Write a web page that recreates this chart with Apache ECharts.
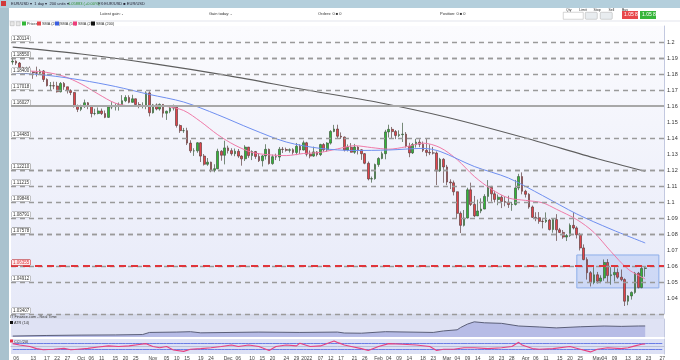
<!DOCTYPE html>
<html><head><meta charset="utf-8">
<script src="https://cdn.jsdelivr.net/npm/echarts@6/dist/echarts.min.js"></script>
<style>html,body{margin:0;padding:0;background:#fff}#c{width:680px;height:360px}</style>
</head><body><div id="c"></div>
<script>
// [date, open, close, low, high]
const ohlc = [
['2021-09-03',1.1875,1.1880,1.1858,1.1909],['2021-09-06',1.1880,1.1868,1.1856,1.1886],['2021-09-07',1.1868,1.1840,1.1834,1.1875],
['2021-09-08',1.1840,1.1817,1.1803,1.1845],['2021-09-09',1.1817,1.1826,1.1802,1.1845],['2021-09-10',1.1826,1.1813,1.1807,1.1847],
['2021-09-13',1.1813,1.1808,1.1770,1.1817],['2021-09-14',1.1808,1.1805,1.1784,1.1846],['2021-09-15',1.1805,1.1819,1.1799,1.1830],
['2021-09-16',1.1819,1.1766,1.1750,1.1825],['2021-09-17',1.1766,1.1727,1.1722,1.1773],['2021-09-20',1.1727,1.1727,1.1700,1.1750],
['2021-09-21',1.1727,1.1725,1.1705,1.1752],['2021-09-22',1.1725,1.1689,1.1684,1.1751],['2021-09-23',1.1689,1.1741,1.1685,1.1750],
['2021-09-24',1.1741,1.1720,1.1701,1.1750],['2021-09-27',1.1720,1.1696,1.1678,1.1720],['2021-09-28',1.1696,1.1684,1.1668,1.1705],
['2021-09-29',1.1684,1.1598,1.1590,1.1687],['2021-09-30',1.1598,1.1579,1.1562,1.1609],['2021-10-01',1.1579,1.1596,1.1568,1.1608],
['2021-10-04',1.1596,1.1620,1.1588,1.1640],['2021-10-05',1.1620,1.1597,1.1580,1.1625],['2021-10-06',1.1597,1.1553,1.1529,1.1604],
['2021-10-07',1.1553,1.1553,1.1542,1.1583],['2021-10-08',1.1553,1.1569,1.1548,1.1591],['2021-10-11',1.1569,1.1553,1.1544,1.1584],
['2021-10-12',1.1553,1.1529,1.1524,1.1572],['2021-10-13',1.1529,1.1594,1.1525,1.1599],['2021-10-14',1.1594,1.1596,1.1580,1.1624],
['2021-10-15',1.1596,1.1601,1.1572,1.1616],['2021-10-18',1.1601,1.1608,1.1571,1.1622],['2021-10-19',1.1608,1.1633,1.1595,1.1668],
['2021-10-20',1.1633,1.1653,1.1624,1.1667],['2021-10-21',1.1653,1.1623,1.1617,1.1667],['2021-10-22',1.1623,1.1645,1.1620,1.1670],
['2021-10-25',1.1645,1.1609,1.1596,1.1646],['2021-10-26',1.1609,1.1598,1.1586,1.1624],['2021-10-27',1.1598,1.1604,1.1585,1.1623],
['2021-10-28',1.1604,1.1682,1.1580,1.1692],['2021-10-29',1.1682,1.1558,1.1535,1.1692],['2021-11-01',1.1558,1.1607,1.1553,1.1613],
['2021-11-02',1.1607,1.1581,1.1573,1.1616],['2021-11-03',1.1581,1.1610,1.1571,1.1616],['2021-11-04',1.1610,1.1555,1.1528,1.1612],
['2021-11-05',1.1555,1.1567,1.1513,1.1571],['2021-11-08',1.1567,1.1587,1.1555,1.1599],['2021-11-09',1.1587,1.1593,1.1572,1.1609],
['2021-11-10',1.1593,1.1478,1.1465,1.1596],['2021-11-11',1.1478,1.1446,1.1432,1.1485],['2021-11-12',1.1446,1.1446,1.1432,1.1463],
['2021-11-15',1.1446,1.1368,1.1356,1.1464],['2021-11-16',1.1368,1.1320,1.1307,1.1386],['2021-11-17',1.1320,1.1320,1.1288,1.1336],
['2021-11-18',1.1320,1.1370,1.1308,1.1374],['2021-11-19',1.1370,1.1287,1.1250,1.1375],['2021-11-22',1.1287,1.1236,1.1228,1.1300],
['2021-11-23',1.1236,1.1249,1.1226,1.1275],['2021-11-24',1.1249,1.1198,1.1186,1.1252],['2021-11-25',1.1198,1.1208,1.1186,1.1236],
['2021-11-26',1.1208,1.1317,1.1205,1.1333],['2021-11-29',1.1317,1.1292,1.1258,1.1324],['2021-11-30',1.1292,1.1338,1.1235,1.1383],
['2021-12-01',1.1338,1.1321,1.1303,1.1352],['2021-12-02',1.1321,1.1302,1.1290,1.1336],['2021-12-03',1.1302,1.1317,1.1286,1.1334],
['2021-12-06',1.1317,1.1287,1.1276,1.1331],['2021-12-07',1.1287,1.1270,1.1227,1.1292],['2021-12-08',1.1270,1.1343,1.1256,1.1355],
['2021-12-09',1.1343,1.1290,1.1276,1.1344],['2021-12-10',1.1290,1.1315,1.1262,1.1323],['2021-12-13',1.1315,1.1285,1.1270,1.1319],
['2021-12-14',1.1285,1.1258,1.1250,1.1306],['2021-12-15',1.1258,1.1288,1.1222,1.1294],['2021-12-16',1.1288,1.1329,1.1265,1.1361],
['2021-12-17',1.1329,1.1240,1.1234,1.1334],['2021-12-20',1.1240,1.1283,1.1233,1.1296],['2021-12-21',1.1283,1.1281,1.1262,1.1302],
['2021-12-22',1.1281,1.1330,1.1256,1.1344],['2021-12-23',1.1330,1.1328,1.1306,1.1344],['2021-12-24',1.1328,1.1323,1.1315,1.1340],
['2021-12-27',1.1323,1.1327,1.1309,1.1335],['2021-12-28',1.1327,1.1310,1.1296,1.1336],['2021-12-29',1.1310,1.1348,1.1293,1.1369],
['2021-12-30',1.1348,1.1325,1.1300,1.1361],['2021-12-31',1.1325,1.1370,1.1322,1.1384],['2022-01-03',1.1370,1.1299,1.1285,1.1376],
['2022-01-04',1.1299,1.1287,1.1273,1.1322],['2022-01-05',1.1287,1.1313,1.1282,1.1346],['2022-01-06',1.1313,1.1296,1.1285,1.1318],
['2022-01-07',1.1296,1.1359,1.1287,1.1364],['2022-01-10',1.1359,1.1326,1.1314,1.1368],['2022-01-11',1.1326,1.1368,1.1313,1.1374],
['2022-01-12',1.1368,1.1441,1.1359,1.1449],['2022-01-13',1.1441,1.1456,1.1436,1.1482],['2022-01-14',1.1456,1.1411,1.1398,1.1483],
['2022-01-17',1.1411,1.1406,1.1394,1.1435],['2022-01-18',1.1406,1.1325,1.1316,1.1409],['2022-01-19',1.1325,1.1342,1.1316,1.1360],
['2022-01-20',1.1342,1.1311,1.1309,1.1368],['2022-01-21',1.1311,1.1343,1.1301,1.1363],['2022-01-24',1.1343,1.1326,1.1297,1.1349],
['2022-01-25',1.1326,1.1302,1.1263,1.1330],['2022-01-26',1.1302,1.1242,1.1236,1.1306],['2022-01-27',1.1242,1.1144,1.1135,1.1253],
['2022-01-28',1.1144,1.1146,1.1121,1.1159],['2022-01-31',1.1146,1.1234,1.1139,1.1240],['2022-02-01',1.1234,1.1272,1.1220,1.1280],
['2022-02-02',1.1272,1.1302,1.1267,1.1315],['2022-02-03',1.1302,1.1438,1.1267,1.1451],['2022-02-04',1.1438,1.1454,1.1403,1.1483],
['2022-02-07',1.1454,1.1440,1.1395,1.1469],['2022-02-08',1.1440,1.1416,1.1393,1.1450],['2022-02-09',1.1416,1.1421,1.1405,1.1448],
['2022-02-10',1.1421,1.1424,1.1375,1.1495],['2022-02-11',1.1424,1.1348,1.1340,1.1437],['2022-02-14',1.1348,1.1307,1.1280,1.1370],
['2022-02-15',1.1307,1.1359,1.1300,1.1369],['2022-02-16',1.1359,1.1374,1.1340,1.1395],['2022-02-17',1.1374,1.1361,1.1343,1.1392],
['2022-02-18',1.1361,1.1323,1.1312,1.1378],['2022-02-21',1.1323,1.1310,1.1286,1.1395],['2022-02-22',1.1310,1.1307,1.1293,1.1360],
['2022-02-23',1.1307,1.1306,1.1297,1.1344],['2022-02-24',1.1306,1.1194,1.1106,1.1316],['2022-02-25',1.1194,1.1267,1.1188,1.1276],
['2022-02-28',1.1267,1.1219,1.1120,1.1274],['2022-03-01',1.1219,1.1125,1.1105,1.1232],['2022-03-02',1.1125,1.1120,1.1081,1.1142],
['2022-03-03',1.1120,1.1064,1.1041,1.1134],['2022-03-04',1.1064,1.0929,1.0900,1.1065],['2022-03-07',1.0929,1.0854,1.0806,1.0941],
['2022-03-08',1.0854,1.0900,1.0847,1.0950],['2022-03-09',1.0900,1.1076,1.0897,1.1089],['2022-03-10',1.1076,1.0985,1.0975,1.1121],
['2022-03-11',1.0985,1.0913,1.0905,1.1038],['2022-03-14',1.0913,1.0944,1.0915,1.1015],['2022-03-15',1.0944,1.0956,1.0930,1.1023],
['2022-03-16',1.0956,1.1035,1.0955,1.1049],['2022-03-17',1.1035,1.1092,1.1003,1.1137],['2022-03-18',1.1092,1.1051,1.1002,1.1101],
['2022-03-21',1.1051,1.1016,1.0997,1.1070],['2022-03-22',1.1016,1.1030,1.0980,1.1047],['2022-03-23',1.1030,1.1003,1.0962,1.1042],
['2022-03-24',1.1003,1.0998,1.0973,1.1035],['2022-03-25',1.0998,1.0984,1.0963,1.1039],['2022-03-28',1.0984,1.0985,1.0945,1.1001],
['2022-03-29',1.0985,1.1088,1.0978,1.1138],['2022-03-30',1.1088,1.1159,1.1074,1.1176],['2022-03-31',1.1159,1.1067,1.1048,1.1185],
['2022-04-01',1.1067,1.1048,1.1028,1.1076],['2022-04-04',1.1048,1.0969,1.0958,1.1055],['2022-04-05',1.0969,1.0904,1.0900,1.0978],
['2022-04-06',1.0904,1.0902,1.0880,1.0936],['2022-04-07',1.0902,1.0879,1.0864,1.0937],['2022-04-08',1.0879,1.0878,1.0835,1.0893],
['2022-04-11',1.0878,1.0887,1.0869,1.0935],['2022-04-12',1.0887,1.0828,1.0822,1.0895],['2022-04-13',1.0828,1.0890,1.0808,1.0895],
['2022-04-14',1.0890,1.0826,1.0757,1.0924],['2022-04-15',1.0826,1.0810,1.0806,1.0838],['2022-04-18',1.0810,1.0781,1.0770,1.0825],
['2022-04-19',1.0781,1.0790,1.0756,1.0800],['2022-04-20',1.0790,1.0854,1.0782,1.0866],['2022-04-21',1.0854,1.0838,1.0829,1.0936],
['2022-04-22',1.0838,1.0795,1.0772,1.0848],['2022-04-25',1.0795,1.0713,1.0697,1.0807],['2022-04-26',1.0713,1.0640,1.0636,1.0735],
['2022-04-27',1.0640,1.0558,1.0515,1.0654],['2022-04-28',1.0558,1.0497,1.0472,1.0568],['2022-04-29',1.0497,1.0545,1.0486,1.0593],
['2022-05-02',1.0545,1.0505,1.0490,1.0563],['2022-05-03',1.0505,1.0525,1.0493,1.0542],['2022-05-04',1.0525,1.0622,1.0508,1.0641],
['2022-05-05',1.0622,1.0540,1.0493,1.0643],['2022-05-06',1.0540,1.0545,1.0483,1.0592],['2022-05-09',1.0545,1.0560,1.0503,1.0593],
['2022-05-10',1.0560,1.0530,1.0520,1.0585],['2022-05-11',1.0530,1.0515,1.0505,1.0578],['2022-05-12',1.0515,1.0380,1.0350,1.0523],
['2022-05-13',1.0380,1.0413,1.0355,1.0418],['2022-05-16',1.0413,1.0435,1.0390,1.0441],['2022-05-17',1.0435,1.0555,1.0426,1.0563],
['2022-05-18',1.0555,1.0465,1.0460,1.0563],['2022-05-19',1.0465,1.0585,1.0461,1.0606],['2022-05-20',1.0585,1.0588,1.0533,1.0598]
];
const futureDates = ['2022-05-23','2022-05-24','2022-05-25','2022-05-26','2022-05-27'];

const sma20 = [['2021-09-03',1.1814],['2021-09-10',1.1818],['2021-09-17',1.1810],['2021-09-24',1.1785],['2021-10-01',1.1738],
['2021-10-08',1.1675],['2021-10-15',1.1618],['2021-10-22',1.1600],['2021-10-29',1.1603],['2021-11-05',1.1597],['2021-11-12',1.1572],
['2021-11-19',1.1502],['2021-11-26',1.1420],['2021-12-03',1.1355],['2021-12-10',1.1310],['2021-12-17',1.1295],['2021-12-24',1.1290],
['2021-12-31',1.1303],['2022-01-07',1.1310],['2022-01-14',1.1332],['2022-01-21',1.1352],['2022-01-28',1.1340],['2022-02-04',1.1330],
['2022-02-11',1.1345],['2022-02-18',1.1368],['2022-02-25',1.1340],['2022-03-04',1.1265],['2022-03-11',1.1160],['2022-03-18',1.1080],
['2022-03-25',1.1025],['2022-04-01',1.1010],['2022-04-08',1.0995],['2022-04-14',1.0955],['2022-04-22',1.0890],['2022-04-29',1.0810],
['2022-05-06',1.0690],['2022-05-13',1.0580],['2022-05-20',1.0519]];
const sma50 = [['2021-09-03',1.1808],['2021-09-17',1.1792],['2021-10-01',1.1762],['2021-10-15',1.1722],['2021-10-29',1.1672],
['2021-11-12',1.1625],['2021-11-26',1.1545],['2021-12-10',1.1455],['2021-12-24',1.1375],['2022-01-07',1.1335],['2022-01-21',1.1322],
['2022-02-04',1.1325],['2022-02-18',1.1335],['2022-02-25',1.1316],['2022-03-11',1.1222],['2022-03-25',1.1150],['2022-04-08',1.1040],
['2022-04-22',1.0925],['2022-05-06',1.0830],['2022-05-20',1.0744]];
const sma200 = [['2021-09-03',1.1968],['2021-10-01',1.1925],['2021-11-01',1.1865],['2021-12-01',1.1790],['2022-01-03',1.1700],
['2022-02-01',1.1622],['2022-03-01',1.1530],['2022-04-01',1.1400],['2022-05-02',1.1270],['2022-05-20',1.1192]];
const atr14 = [['2021-09-03',0.0045],['2021-09-17',0.0048],['2021-10-01',0.0050],['2021-10-15',0.0051],['2021-10-27',0.0053],
['2021-10-29',0.0064],['2021-11-10',0.0066],['2021-11-16',0.0068],['2021-11-19',0.0062],['2021-12-14',0.0066],['2021-12-30',0.0064],
['2022-01-14',0.0066],['2022-01-18',0.0061],['2022-01-25',0.0060],['2022-02-03',0.0068],['2022-02-23',0.0064],['2022-02-28',0.0072],
['2022-03-04',0.0078],['2022-03-07',0.0090],['2022-03-09',0.0108],['2022-03-11',0.0120],['2022-03-16',0.0115],['2022-03-23',0.0112],
['2022-03-30',0.0098],['2022-04-07',0.0093],['2022-04-14',0.0088],['2022-04-25',0.0094],['2022-05-04',0.0098],['2022-05-11',0.0096],
['2022-05-18',0.0098],['2022-05-20',0.00983]];
const cci20 = [['2021-09-03',95],['2021-09-07',48],['2021-09-10',0],['2021-09-14',-70],['2021-09-16',-108],['2021-09-21',-90],
['2021-09-24',-62],['2021-09-28',-108],['2021-09-30',-90],['2021-10-05',-62],['2021-10-08',-15],['2021-10-13',20],['2021-10-18',0],
['2021-10-21',20],['2021-10-26',67],['2021-10-28',95],['2021-11-01',0],['2021-11-03',-43],['2021-11-05',0],['2021-11-09',-117],
['2021-11-12',-163],['2021-11-16',-90],['2021-11-19',-70],['2021-11-24',-43],['2021-11-29',0],['2021-12-02',48],['2021-12-06',0],
['2021-12-09',48],['2021-12-14',0],['2021-12-17',-136],['2021-12-21',0],['2021-12-24',48],['2021-12-29',20],['2021-12-30',111],
['2022-01-04',0],['2022-01-07',20],['2022-01-13',185],['2022-01-14',130],['2022-01-17',95],['2022-01-18',48],['2022-01-20',0],
['2022-01-25',-70],['2022-01-27',-136],['2022-02-01',0],['2022-02-04',95],['2022-02-10',75],['2022-02-16',48],['2022-02-22',0],
['2022-02-24',-136],['2022-02-28',-90],['2022-03-03',-90],['2022-03-08',-43],['2022-03-11',-43],['2022-03-17',-70],['2022-03-23',-43],
['2022-03-28',0],['2022-03-30',139],['2022-03-31',48],['2022-04-05',-70],['2022-04-07',-90],['2022-04-13',-70],['2022-04-20',0],
['2022-04-25',-90],['2022-04-28',-180],['2022-05-02',-90],['2022-05-05',-43],['2022-05-11',-70],['2022-05-13',-43],['2022-05-17',20],
['2022-05-19',75],['2022-05-20',85.272]];
const cciBands = [100, -100];

const levels = [1.20114,1.19175,1.18550,1.18400,1.17018,1.14483,1.12340,1.12210,1.11215,1.09846,1.08791,1.08061,1.07578,1.05751,1.04912,1.03407];
const solidLevel = 1.16027;
const redLevel = 1.06355;
const boxX = ['2022-04-22','2022-05-26'];
const boxY = [1.0669, 1.0463];
const xTickLabels = {'2021-09-06':'06','2021-09-13':'13','2021-09-17':'17','2021-09-22':'22','2021-09-27':'27',
'2021-10-01':'Oct','2021-10-06':'06','2021-10-11':'11','2021-10-15':'15','2021-10-20':'20','2021-10-25':'25',
'2021-11-01':'Nov','2021-11-05':'05','2021-11-10':'10','2021-11-15':'15','2021-11-19':'19','2021-11-24':'24',
'2021-12-01':'Dec','2021-12-06':'06','2021-12-10':'10','2021-12-15':'15','2021-12-20':'20','2021-12-24':'24','2021-12-29':'29',
'2022-01-03':'2022','2022-01-07':'07','2022-01-12':'12','2022-01-17':'17','2022-01-21':'21','2022-01-26':'26',
'2022-02-01':'Feb','2022-02-04':'04','2022-02-09':'09','2022-02-14':'14','2022-02-18':'18','2022-02-23':'23',
'2022-03-01':'Mar','2022-03-04':'04','2022-03-09':'09','2022-03-14':'14','2022-03-18':'18','2022-03-23':'23','2022-03-28':'28',
'2022-04-01':'Apr','2022-04-06':'06','2022-04-11':'11','2022-04-15':'15','2022-04-20':'20','2022-04-25':'25',
'2022-05-02':'May','2022-05-04':'04','2022-05-09':'09','2022-05-13':'13','2022-05-18':'18','2022-05-23':'23','2022-05-27':'27'};
const priceMin = 1.03, priceMax = 1.21, priceStep = 0.01;

const FONT = 'Liberation Sans';
const dates = ohlc.map(r => r[0]).concat(futureDates);
const candles = ohlc.map(r => [r[1], r[2], r[3], r[4]]);
const last = a => a[a.length - 1][1];

const chart = echarts.init(document.getElementById('c'));
const tag = (v, bg, fg, bd, txt) => ({
  yAxis: v, lineStyle: {opacity: 0},
  label: {show: true, position: 'end', distance: 2, formatter: txt || v.toFixed(5), backgroundColor: bg, color: fg,
    borderColor: bd, borderWidth: 0.6, padding: [1, 1], fontSize: 5, fontFamily: FONT}
});
const lvl = (v, extra) => Object.assign({yAxis: v, label: {formatter: v.toFixed(5)}}, extra || {});
const xAxisBase = (i, showLabels) => ({
  type: 'category', gridIndex: i, data: dates, boundaryGap: true,
  axisLine: {show: showLabels, lineStyle: {color: '#b9c0d8'}}, axisTick: {show: false}, splitLine: {show: false},
  axisLabel: showLabels ? {
    show: true, fontSize: 5, color: '#444', fontFamily: FONT, margin: 2,
    interval: (idx, val) => xTickLabels[val] !== undefined,
    formatter: val => xTickLabels[val] || ''
  } : {show: false}
});
const flat = v => dates.map(d => [d, v]);

const option = {
  animation: false,
  backgroundColor: '#ffffff',
  textStyle: {fontFamily: FONT},
  grid: [
    {left: 11, right: 16, top: 26, height: 288, show: true, borderWidth: 0, outerBoundsMode: 'none', containLabel: false,
     backgroundColor: {type: 'linear', x: 0, y: 0, x2: 0, y2: 1, colorStops: [{offset: 0, color: '#fbfbfe'}, {offset: 1, color: '#e6e9f8'}]}},
    {left: 11, right: 16, top: 319, height: 18, show: true, borderWidth: 0, backgroundColor: '#dfe2f4', outerBoundsMode: 'none', containLabel: false},
    {left: 11, right: 16, top: 339, height: 15, show: true, borderWidth: 0, backgroundColor: '#dde1f5', outerBoundsMode: 'none', containLabel: false}
  ],
  xAxis: [xAxisBase(0, false), xAxisBase(1, false), xAxisBase(2, true)],
  yAxis: [
    {type: 'value', gridIndex: 0, position: 'right', min: priceMin, max: priceMax, interval: priceStep, scale: true,
     axisLine: {show: true, lineStyle: {color: '#c3c9e0'}}, axisTick: {show: false}, splitLine: {show: false},
     axisLabel: {fontSize: 5.5, color: '#333', margin: 3, showMinLabel: false, showMaxLabel: false,
       formatter: v => String(parseFloat(v.toFixed(2)))}},
    {type: 'value', gridIndex: 1, position: 'right', min: 0.004, max: 0.0135,
     axisLine: {show: true, lineStyle: {color: '#c3c9e0'}}, axisTick: {show: false}, splitLine: {show: false}, axisLabel: {show: false}},
    {type: 'value', gridIndex: 2, position: 'right', min: -250, max: 250,
     axisLine: {show: true, lineStyle: {color: '#c3c9e0'}}, axisTick: {show: false}, splitLine: {show: false}, axisLabel: {show: false}}
  ],
  series: [
    {name: 'Prices', type: 'candlestick', xAxisIndex: 0, yAxisIndex: 0, data: candles, barWidth: '65%',
     itemStyle: {color: '#32b737', color0: '#e4434a', borderColor: '#3f5a3f', borderColor0: '#5e4040', borderWidth: 0.7},
     markLine: {symbol: 'none', silent: true, animation: false,
       lineStyle: {type: [5, 4], color: '#9a9a9a', width: 1.3},
       label: {show: true, position: 'insideStartTop', distance: [1, 1], fontSize: 4.5,
         color: '#333', backgroundColor: '#ffffff', borderColor: '#999', borderWidth: 0.5, padding: [0, 1], fontFamily: FONT},
       data: levels.map(v => lvl(v)).concat([
         lvl(solidLevel, {lineStyle: {type: 'solid', color: '#a8a8a8', width: 2.2}}),
         {yAxis: redLevel, lineStyle: {type: [7, 5], color: '#e0353b', width: 2},
          label: {formatter: redLevel.toFixed(5), color: '#e0353b', borderColor: '#e0353b', backgroundColor: '#fde8ea'}},
         tag(ohlc[ohlc.length - 1][2], '#f4d000', '#222', '#c9a800'),
         tag(1.0563, '#e9f6e6', '#2a7a2a', '#7ac27a', '1.05626')
       ])},
     markArea: {silent: true, itemStyle: {color: 'rgba(110,150,235,0.22)', borderColor: '#8eaee9', borderWidth: 1},
       data: [[{xAxis: boxX[0], yAxis: boxY[0]}, {xAxis: boxX[1], yAxis: boxY[1]}]]}
    },
    {name: 'SMA (20)', type: 'line', xAxisIndex: 0, yAxisIndex: 0, data: sma20, smooth: 0.3, connectNulls: true, showSymbol: false,
     lineStyle: {color: '#f07aa8', width: 1}, itemStyle: {color: '#f07aa8'}, z: 3,
     markLine: {symbol: 'none', silent: true, data: [tag(last(sma20), '#fdeaf1', '#e0356f', '#f07aa8')]}},
    {name: 'SMA (50)', type: 'line', xAxisIndex: 0, yAxisIndex: 0, data: sma50, smooth: 0.3, connectNulls: true, showSymbol: false,
     lineStyle: {color: '#6f8ff0', width: 1}, itemStyle: {color: '#6f8ff0'}, z: 3,
     markLine: {symbol: 'none', silent: true, data: [tag(last(sma50), '#e3eafc', '#3456d0', '#6f8ff0')]}},
    {name: 'SMA (200)', type: 'line', xAxisIndex: 0, yAxisIndex: 0, data: sma200, smooth: 0.3, connectNulls: true, showSymbol: false,
     lineStyle: {color: '#5e5e5e', width: 1.1}, itemStyle: {color: '#5e5e5e'}, z: 3,
     markLine: {symbol: 'none', silent: true, data: [tag(last(sma200), '#ffffff', '#333', '#aaa')]}},
    {name: 'ATR (14)', type: 'line', xAxisIndex: 1, yAxisIndex: 1, data: atr14, connectNulls: true, showSymbol: false,
     lineStyle: {color: '#5b5f78', width: 1}, areaStyle: {color: '#b7bce6', origin: 'start', opacity: 1},
     markLine: {symbol: 'none', silent: true, data: [tag(0.00983, '#eef0f8', '#333', '#999', '0.00983'),
       {yAxis: 0.0112, lineStyle: {opacity: 0}, label: {show: true, position: 'end', distance: 3, formatter: '0.01', fontSize: 5, color: '#333'}}]}},
    {name: 'CCI +100', type: 'line', xAxisIndex: 2, yAxisIndex: 2, data: flat(cciBands[0]), showSymbol: false, silent: true, clip: false,
     lineStyle: {color: '#6a7de6', width: 1}, z: 4},
    {name: 'CCI -100', type: 'line', xAxisIndex: 2, yAxisIndex: 2, data: flat(cciBands[1]), showSymbol: false, silent: true, clip: false,
     lineStyle: {color: '#6a7de6', width: 1}, z: 4},
    {name: 'CCI (20)', type: 'line', xAxisIndex: 2, yAxisIndex: 2, data: cci20, connectNulls: true, showSymbol: false, z: 5, clip: false,
     lineStyle: {color: '#e8417f', width: 1.1},
     markLine: {symbol: 'none', silent: true, lineStyle: {opacity: 0},
       label: {show: true, position: 'end', distance: 3, fontSize: 5, color: '#333', fontFamily: FONT},
       data: [{yAxis: 170, label: {formatter: '100'}},
         tag(85.272, '#e8344a', '#fff', '#e8344a', '85.272'),
         {yAxis: -200, label: {formatter: '-200'}}]}}
  ],
  graphic: [
    {type: 'rect', left: 0, top: 0, shape: {width: 680, height: 8}, style: {fill: '#b4cfdc'}},
    {type: 'rect', left: 0, top: 8, shape: {width: 680, height: 13}, style: {fill: '#ffffff'}},
    {type: 'line', shape: {x1: 9, y1: 21, x2: 680, y2: 21}, style: {stroke: '#d0d4e0', lineWidth: 0.6}},
    {type: 'rect', left: 0, top: 8, shape: {width: 9, height: 352}, style: {fill: '#a9c2ce'}},
    {type: 'rect', left: 1, top: 1, shape: {width: 5, height: 5}, style: {fill: '#d23a3a'}},
    {type: 'text', left: 11, top: 1.5, style: {text: 'EUR/USD ▾  1 day ▾  200 units ▾', fontSize: 4, fill: '#223'}},
    {type: 'text', left: 68, top: 1.5, style: {text: '1.05883 (+0.00%)', fontSize: 4, fill: '#2f8f2f'}},
    {type: 'text', left: 98, top: 1.5, style: {text: 'FX:EUR/USD ■ EUR/USD', fontSize: 4, fill: '#223'}},
    {type: 'text', left: 100, top: 12, style: {text: 'Latest gain: -', fontSize: 4, fill: '#333'}},
    {type: 'text', left: 209, top: 12, style: {text: 'Gain today: -', fontSize: 4, fill: '#333'}},
    {type: 'text', left: 318, top: 12, style: {text: 'Orders: 0 ■ 0', fontSize: 4, fill: '#333'}},
    {type: 'text', left: 440, top: 12, style: {text: 'Position: 0 ■ 0', fontSize: 4, fill: '#333'}},
    {type: 'text', left: 566, top: 8.5, style: {text: 'Qty        Limit       Stop        Sell        Buy', fontSize: 3.5, fill: '#333'}},
    {type: 'rect', left: 563, top: 12, shape: {width: 20, height: 7}, style: {fill: '#fff', stroke: '#aaa', lineWidth: 0.5}},
    {type: 'rect', left: 585, top: 12, shape: {width: 12, height: 7, r: 1}, style: {fill: '#e8ecef', stroke: '#aaa', lineWidth: 0.5}},
    {type: 'rect', left: 600, top: 12, shape: {width: 12, height: 7, r: 1}, style: {fill: '#e8ecef', stroke: '#aaa', lineWidth: 0.5}},
    {type: 'rect', left: 622, top: 11, shape: {width: 16, height: 8}, style: {fill: '#e8474b'}},
    {type: 'text', left: 624, top: 12, style: {text: '1.05 88', fontSize: 5, fill: '#fff'}},
    {type: 'rect', left: 640, top: 11, shape: {width: 16, height: 8}, style: {fill: '#36b53a'}},
    {type: 'text', left: 642, top: 12, style: {text: '1.05 88', fontSize: 5, fill: '#fff'}},
    {type: 'rect', left: 10, top: 21.5, shape: {width: 4, height: 4}, style: {fill: '#e8e8e8', stroke: '#999', lineWidth: 0.4}},
    {type: 'rect', left: 16, top: 21.5, shape: {width: 4, height: 4}, style: {fill: '#e8e8e8', stroke: '#999', lineWidth: 0.4}},
    {type: 'rect', left: 22, top: 21.5, shape: {width: 4, height: 4}, style: {fill: '#32b737'}},
    {type: 'text', left: 27, top: 21.8, style: {text: 'Prices', fontSize: 3.8, fill: '#333'}},
    {type: 'rect', left: 37, top: 21.5, shape: {width: 4, height: 4}, style: {fill: '#e4434a'}},
    {type: 'text', left: 42, top: 21.8, style: {text: 'SMA (200)', fontSize: 3.8, fill: '#333'}},
    {type: 'rect', left: 55, top: 21.5, shape: {width: 4, height: 4}, style: {fill: '#3a5ee0'}},
    {type: 'text', left: 60, top: 21.8, style: {text: 'SMA (50)', fontSize: 3.8, fill: '#333'}},
    {type: 'rect', left: 73, top: 21.5, shape: {width: 4, height: 4}, style: {fill: '#ee3d7a'}},
    {type: 'text', left: 78, top: 21.8, style: {text: 'SMA (20)', fontSize: 3.8, fill: '#333'}},
    {type: 'rect', left: 91, top: 21.5, shape: {width: 4, height: 4}, style: {fill: '#111'}},
    {type: 'text', left: 96, top: 21.8, style: {text: 'SMA (200)', fontSize: 3.8, fill: '#333'}},
    {type: 'rect', left: 11, top: 314, shape: {width: 653, height: 5}, style: {fill: '#d7dbec'}},
    {type: 'text', left: 10, top: 315, style: {text: 'IT Finance.com - Real Time', fontSize: 3.8, fill: '#333'}},
    {type: 'rect', left: 10, top: 321, shape: {width: 3, height: 3}, style: {fill: '#111'}},
    {type: 'text', left: 14, top: 321, style: {text: 'ATR (14)', fontSize: 3.8, fill: '#333'}},
    {type: 'rect', left: 10, top: 339.5, shape: {width: 3, height: 3}, style: {fill: '#e8344a'}},
    {type: 'text', left: 14, top: 339.5, style: {text: 'CCI (20)', fontSize: 3.8, fill: '#333'}}
  ]
};
chart.setOption(option);
</script>
</body></html>
